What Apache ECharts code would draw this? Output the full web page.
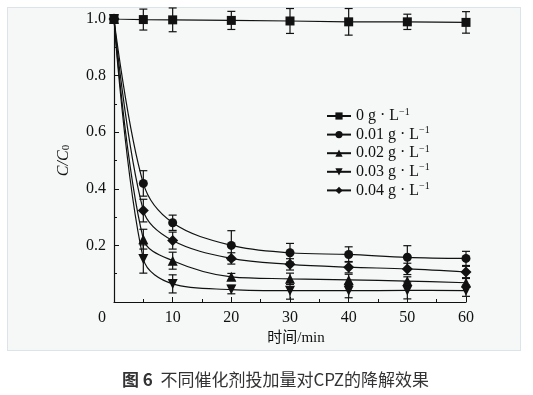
<!DOCTYPE html>
<html>
<head>
<meta charset="utf-8">
<script src="https://cdn.jsdelivr.net/npm/echarts@6/dist/echarts.min.js"></script>
<style>
html,body{margin:0;padding:0;background:#fff;}
#panel{position:absolute;left:7px;top:7px;width:514px;height:344px;background:#f6f8f8;border:1px solid #dbe5e9;box-sizing:border-box;}
#chart{position:absolute;left:0;top:0;width:533px;height:395px;}
</style>
</head>
<body>
<div id="panel"></div>
<div id="chart"></div>
<script>
// ---- data ----
const times = [0, 5, 10, 20, 30, 40, 50, 60];
const seriesNames = ['0 g · L', '0.01 g · L', '0.02 g · L', '0.03 g · L', '0.04 g · L'];
const c0   = [1.0, 0.998, 0.997, 0.995, 0.993, 0.990, 0.990, 0.988];
const c001 = [1.0, 0.419, 0.280, 0.200, 0.174, 0.168, 0.158, 0.154];
const c002 = [1.0, 0.222, 0.146, 0.089, 0.082, 0.078, 0.074, 0.068];
const c003 = [1.0, 0.152, 0.064, 0.044, 0.040, 0.040, 0.041, 0.040];
const c004 = [1.0, 0.323, 0.217, 0.154, 0.133, 0.123, 0.117, 0.106];
const e0   = [0, 0.037, 0.042, 0.032, 0.044, 0.047, 0.027, 0.038];
const e001 = [0, 0.045, 0.027, 0.052, 0.033, 0.027, 0.041, 0.025];
const e002 = [0, 0.035, 0.030, 0.012, 0.020, 0.020, 0.015, 0.015];
const e003 = [0, 0.050, 0.032, 0.015, 0.030, 0.025, 0.030, 0.020];
const e004 = [0, 0.040, 0.030, 0.020, 0.020, 0.020, 0.020, 0.020];
const xTicks = [0, 10, 20, 30, 40, 50, 60];
const yTicks = [0.2, 0.4, 0.6, 0.8, 1.0];
const caption = '不同催化剂投加量对CPZ的降解效果';
const figNo = '图 6';

const values = [c0, c001, c002, c003, c004];
const errors = [e0, e001, e002, e003, e004];
const symbols = ['rect', 'circle', 'triangle', 'triangle', 'diamond'];
const symSizes = [9, 9, 10, 10, 11];
const symRot = [0, 0, 0, 180, 0];
const smoothVals = [false, 0.35, 0.35, 0.35, 0.35];
const ink = '#111';
const serif = '"Liberation Serif","Times New Roman",serif';

const series = [];
values.forEach((vals, i) => {
  series.push({
    name: seriesNames[i],
    type: 'line',
    data: times.map((t, j) => [t, vals[j]]),
    smooth: smoothVals[i],
    symbol: symbols[i],
    symbolSize: symSizes[i],
    symbolRotate: symRot[i],
    showAllSymbol: true,
    lineStyle: { color: ink, width: 1.2 },
    itemStyle: { color: ink, borderWidth: 0 },
    z: 3
  });
  series.push({
    type: 'custom',
    name: seriesNames[i] + '_err',
    data: times.map((t, j) => [t, vals[j] - errors[i][j], vals[j] + errors[i][j]]),
    clip: false,
    z: 2,
    renderItem: function (params, api) {
      if (api.value(2) - api.value(1) <= 0) return null;
      const lo = api.coord([api.value(0), api.value(1)]);
      const hi = api.coord([api.value(0), api.value(2)]);
      const hw = 4;
      const st = { stroke: ink, lineWidth: 1.2 };
      return {
        type: 'group',
        children: [
          { type: 'line', shape: { x1: lo[0], y1: lo[1], x2: hi[0], y2: hi[1] }, style: st },
          { type: 'line', shape: { x1: lo[0] - hw, y1: lo[1], x2: lo[0] + hw, y2: lo[1] }, style: st },
          { type: 'line', shape: { x1: hi[0] - hw, y1: hi[1], x2: hi[0] + hw, y2: hi[1] }, style: st }
        ]
      };
    }
  });
});

const chart = echarts.init(document.getElementById('chart'), null, { renderer: 'canvas' });
chart.setOption({
  backgroundColor: 'transparent',
  animation: false,
  title: {
    text: '{b|' + figNo + '}{n|  ' + caption + '}',
    left: 122,
    top: 371,
    padding: 0,
    textStyle: {
      fontWeight: 'normal',
      rich: {
        b: { fontFamily: '"Noto Sans CJK SC",sans-serif', fontWeight: 'bold', fontSize: 17, color: '#333' },
        n: { fontFamily: '"Noto Sans CJK SC",sans-serif', fontWeight: 'normal', fontSize: 17, color: '#333' }
      }
    }
  },
  grid: { left: 114, right: 67, top: 19, bottom: 93, containLabel: false },
  legend: {
    data: seriesNames,
    orient: 'vertical',
    left: 326,
    top: 107,
    padding: 0,
    itemWidth: 24,
    itemHeight: 9,
    itemGap: 1.6,
    formatter: function (name) { return '{t|' + name + '}{s|−1}'; },
    textStyle: {
      color: ink,
      rich: {
        t: { fontFamily: serif, fontSize: 16, color: ink, lineHeight: 16 },
        s: { fontFamily: serif, fontSize: 10, color: ink, padding: [0, 0, 8, 0] }
      }
    }
  },
  xAxis: {
    type: 'value',
    min: 0,
    max: 60,
    interval: 10,
    name: '时间/min',
    nameLocation: 'middle',
    nameGap: 29,
    nameTextStyle: { fontFamily: '"Liberation Serif","Noto Sans CJK SC",serif', fontSize: 15, color: ink, padding: [0, 0, 0, 12] },
    axisLine: { show: true, lineStyle: { color: ink, width: 1.2 } },
    axisTick: { show: true, inside: true, length: 5, lineStyle: { color: ink } },
    minorTick: { show: true, splitNumber: 2, length: 3, lineStyle: { color: ink } },
    splitLine: { show: false },
    axisLabel: {
      color: ink, fontFamily: serif, fontSize: 16, margin: 8,
      formatter: function (v) { return v === 0 ? '{o|0}' : (xTicks.indexOf(v) >= 0 ? String(v) : ''); },
      rich: { o: { fontFamily: serif, fontSize: 16, color: ink, padding: [0, 24, 0, 0] } }
    }
  },
  yAxis: {
    type: 'value',
    min: 0,
    max: 1.0,
    interval: 0.2,
    name: '{i|C/C}{s|0}',
    nameLocation: 'middle',
    nameGap: 42,
    nameRotate: 90,
    nameTextStyle: {
      rich: {
        i: { fontFamily: serif, fontStyle: 'italic', fontSize: 16, color: ink },
        s: { fontFamily: serif, fontSize: 11, color: ink, padding: [6, 0, 0, 0] }
      }
    },
    axisLine: { show: true, lineStyle: { color: ink, width: 1.2 } },
    axisTick: { show: true, inside: true, length: 5, lineStyle: { color: ink } },
    minorTick: { show: true, splitNumber: 2, length: 3, lineStyle: { color: ink } },
    splitLine: { show: false },
    axisLabel: {
      color: ink, fontFamily: serif, fontSize: 16, margin: 8,
      formatter: function (v) {
        const hit = yTicks.find(t => Math.abs(t - v) < 1e-9);
        return hit === undefined ? '' : hit.toFixed(1);
      }
    }
  },
  series: series
});
</script>
</body>
</html>
